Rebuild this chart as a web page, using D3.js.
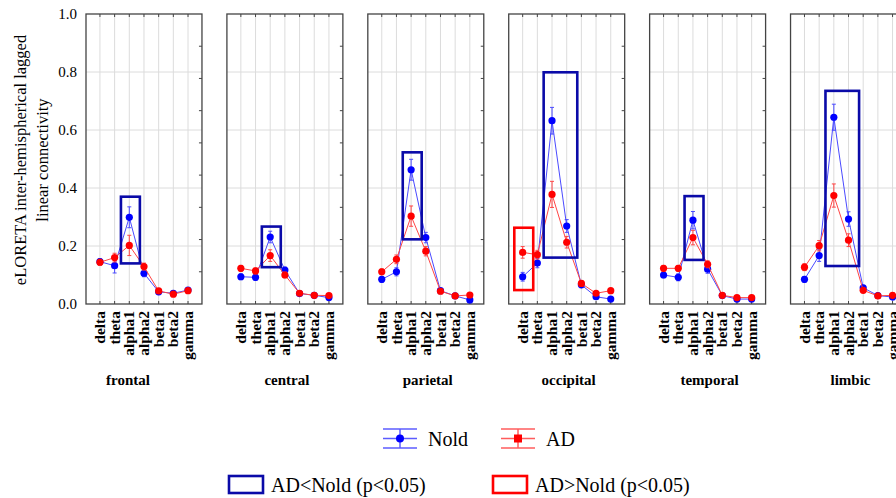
<!DOCTYPE html>
<html>
<head>
<meta charset="utf-8">
<script src="https://cdn.jsdelivr.net/npm/d3@7"></script>
<style>
  body { margin: 0; background: #fff; }
  text { font-family: "Liberation Serif", "Times New Roman", serif; fill: #000; }
</style>
</head>
<body>
<div id="chart"></div>
<script>
// regions (panels) and frequency bands (x categories)
var regions = ["frontal", "central", "parietal", "occipital", "temporal", "limbic"];
var bands = ["delta", "theta", "alpha1", "alpha2", "beta1", "beta2", "gamma"];
var yTicks = [0, 0.2, 0.4, 0.6, 0.8, 1.0];

// group means, one row per region
var noldMean = [
  [0.146, 0.132, 0.299, 0.106, 0.042, 0.037, 0.048],
  [0.094, 0.092, 0.231, 0.117, 0.036, 0.030, 0.022],
  [0.085, 0.111, 0.463, 0.229, 0.046, 0.028, 0.014],
  [0.094, 0.141, 0.632, 0.269, 0.066, 0.025, 0.017],
  [0.100, 0.092, 0.289, 0.120, 0.029, 0.017, 0.017],
  [0.085, 0.167, 0.644, 0.293, 0.056, 0.029, 0.024]
];
var adMean = [
  [0.144, 0.160, 0.202, 0.129, 0.045, 0.034, 0.046],
  [0.123, 0.114, 0.167, 0.100, 0.037, 0.030, 0.029],
  [0.111, 0.154, 0.303, 0.182, 0.044, 0.028, 0.031],
  [0.178, 0.170, 0.378, 0.213, 0.071, 0.037, 0.046],
  [0.123, 0.123, 0.229, 0.137, 0.030, 0.022, 0.022],
  [0.127, 0.201, 0.374, 0.220, 0.047, 0.028, 0.030]
];
// standard errors
var noldSE = [
  [0.010, 0.025, 0.036, 0.012, 0.006, 0.005, 0.006],
  [0.010, 0.010, 0.020, 0.010, 0.005, 0.004, 0.004],
  [0.010, 0.014, 0.036, 0.018, 0.006, 0.004, 0.003],
  [0.015, 0.016, 0.046, 0.022, 0.010, 0.004, 0.003],
  [0.010, 0.012, 0.030, 0.014, 0.005, 0.003, 0.003],
  [0.010, 0.020, 0.045, 0.025, 0.008, 0.004, 0.004]
];
var adSE = [
  [0.010, 0.015, 0.035, 0.012, 0.006, 0.005, 0.006],
  [0.010, 0.010, 0.020, 0.010, 0.005, 0.004, 0.004],
  [0.010, 0.015, 0.035, 0.016, 0.006, 0.004, 0.004],
  [0.020, 0.015, 0.045, 0.020, 0.010, 0.005, 0.005],
  [0.010, 0.010, 0.025, 0.012, 0.005, 0.004, 0.004],
  [0.012, 0.018, 0.040, 0.022, 0.006, 0.004, 0.004]
];

// significance boxes
var boxRegion = ["frontal", "central", "parietal", "occipital", "temporal", "limbic", "occipital"];
var boxFrom   = ["alpha1", "alpha1", "alpha1", "alpha1", "alpha1", "alpha1", "delta"];
var boxTo     = ["alpha1", "alpha1", "alpha1", "alpha2", "alpha1", "alpha2", "delta"];
var boxLow    = [0.140, 0.127, 0.223, 0.160, 0.152, 0.131, 0.048];
var boxHigh   = [0.370, 0.267, 0.523, 0.799, 0.372, 0.735, 0.263];
var boxType   = ["lower", "lower", "lower", "lower", "lower", "lower", "higher"];

var W = 896, H = 498;
var plotTop = 14, plotBottom = 304;

var svg = d3.select("#chart").append("svg")
    .attr("width", W)
    .attr("height", H);

// panel positions
var px = d3.scaleBand()
    .domain(regions)
    .range([86, 906.5])
    .paddingInner(0.177)
    .paddingOuter(0);

var pw = px.bandwidth();

var x = d3.scalePoint()
    .domain(bands)
    .range([0, pw])
    .padding(0.95);
var step = x.step();

var y = d3.scaleLinear()
    .domain([0, 1])
    .range([plotBottom, plotTop]);

var blueLine = "#4a4aff", blueDot = "#0000ff";
var redLine = "#ff4545", redDot = "#ff0000";
var boxBlue = "#0a0aa8", boxRed = "#ff0000";

var series = [
  {mean: noldMean, se: noldSE, line: blueLine, dot: blueDot},
  {mean: adMean, se: adSE, line: redLine, dot: redDot}
];

regions.forEach(function(reg, ri) {
  var g = svg.append("g")
      .attr("transform", "translate(" + px(reg) + ",0)");

  // grid
  g.selectAll(".vgrid").data(bands).enter().append("line")
      .attr("x1", function(d) { return x(d); })
      .attr("x2", function(d) { return x(d); })
      .attr("y1", plotTop).attr("y2", plotBottom)
      .attr("stroke", "#dcdcdc").attr("stroke-width", 1);
  g.selectAll(".hgrid").data(yTicks.slice(1, -1)).enter().append("line")
      .attr("x1", 0).attr("x2", pw)
      .attr("y1", function(d) { return y(d); })
      .attr("y2", function(d) { return y(d); })
      .attr("stroke", "#dcdcdc").attr("stroke-width", 1);

  // inward tick marks: top/bottom at bands, right side in ninths
  g.selectAll(".tt").data(bands).enter().append("line")
      .attr("x1", function(d) { return x(d); })
      .attr("x2", function(d) { return x(d); })
      .attr("y1", plotTop).attr("y2", plotTop + 3)
      .attr("stroke", "#444");
  g.selectAll(".bt").data(bands).enter().append("line")
      .attr("x1", function(d) { return x(d); })
      .attr("x2", function(d) { return x(d); })
      .attr("y1", plotBottom).attr("y2", plotBottom - 3)
      .attr("stroke", "#444");
  g.selectAll(".rt").data(d3.range(1, 9)).enter().append("line")
      .attr("x1", pw).attr("x2", pw - 3)
      .attr("y1", function(d) { return y(d / 9); })
      .attr("y2", function(d) { return y(d / 9); })
      .attr("stroke", "#444");

  // frame
  g.append("rect")
      .attr("x", 0).attr("y", plotTop)
      .attr("width", pw).attr("height", plotBottom - plotTop)
      .attr("fill", "none")
      .attr("stroke", "#444")
      .attr("stroke-width", 1.3);

  // series: lines, error bars, markers
  series.forEach(function(s) {
    var pts = bands.map(function(b, i) {
      return {b: b, v: s.mean[ri][i], e: s.se[ri][i]};
    });
    g.append("path")
        .datum(pts)
        .attr("fill", "none")
        .attr("stroke", s.line)
        .attr("stroke-width", 1)
        .attr("d", d3.line()
          .x(function(d) { return x(d.b); })
          .y(function(d) { return y(d.v); }));
    g.selectAll(null).data(pts).enter().append("line")
        .attr("x1", function(d) { return x(d.b); })
        .attr("x2", function(d) { return x(d.b); })
        .attr("y1", function(d) { return y(d.v - d.e); })
        .attr("y2", function(d) { return y(d.v + d.e); })
        .attr("stroke", s.line).attr("stroke-width", 1);
    [-1, 1].forEach(function(sg) {
      g.selectAll(null).data(pts).enter().append("line")
          .attr("x1", function(d) { return x(d.b) - 2; })
          .attr("x2", function(d) { return x(d.b) + 2; })
          .attr("y1", function(d) { return y(d.v + sg * d.e); })
          .attr("y2", function(d) { return y(d.v + sg * d.e); })
          .attr("stroke", s.line).attr("stroke-width", 1);
    });
    g.selectAll(null).data(pts).enter().append("circle")
        .attr("cx", function(d) { return x(d.b); })
        .attr("cy", function(d) { return y(d.v); })
        .attr("r", 3.6)
        .attr("fill", s.dot);
  });

  // x tick labels
  g.selectAll(".xl").data(bands).enter().append("text")
      .attr("transform", function(d) { return "translate(" + x(d) + ",311) rotate(-90)"; })
      .attr("text-anchor", "end")
      .attr("dy", "0.33em")
      .attr("font-size", "15.5px")
      .attr("font-weight", "bold")
      .text(function(d) { return d; });

  // region label
  g.append("text")
      .attr("x", pw / 2 + (ri === 0 ? -16 : 2))
      .attr("y", 385)
      .attr("text-anchor", "middle")
      .attr("font-size", "15px")
      .attr("font-weight", "bold")
      .text(reg);
});

// significance boxes
boxRegion.forEach(function(reg, i) {
  var x0 = px(reg) + x(boxFrom[i]) - 0.57 * step;
  var x1 = px(reg) + x(boxTo[i]) + 0.72 * step;
  svg.append("rect")
      .attr("x", x0)
      .attr("y", y(boxHigh[i]))
      .attr("width", x1 - x0)
      .attr("height", y(boxLow[i]) - y(boxHigh[i]))
      .attr("fill", "none")
      .attr("stroke", boxType[i] === "lower" ? boxBlue : boxRed)
      .attr("stroke-width", 2.6);
});

// y axis labels (first panel only)
svg.selectAll(".yl").data(yTicks).enter().append("text")
    .attr("x", 77)
    .attr("y", function(d) { return y(d); })
    .attr("dy", "0.35em")
    .attr("text-anchor", "end")
    .attr("font-size", "15px")
    .text(function(d) { return d.toFixed(1); });

// y axis title
var yt = svg.append("text")
    .attr("transform", "translate(26,160) rotate(-90)")
    .attr("text-anchor", "middle")
    .attr("font-size", "16.5px");
yt.append("tspan").attr("x", 0).attr("dy", 0).text("eLORETA inter-hemispherical lagged");
yt.append("tspan").attr("x", 0).attr("dy", 22).text("linear connectivity");

// legend: series
function seriesKey(cx, color, dotColor, square, label) {
  var k = svg.append("g");
  [429, 438.5, 448].forEach(function(yy) {
    k.append("line")
        .attr("x1", cx - 17).attr("x2", cx + 17)
        .attr("y1", yy).attr("y2", yy)
        .attr("stroke", color).attr("stroke-width", 1.5);
  });
  k.append("line")
      .attr("x1", cx).attr("x2", cx)
      .attr("y1", 429).attr("y2", 448)
      .attr("stroke", color).attr("stroke-width", 1.5);
  if (square) {
    k.append("rect").attr("x", cx - 4).attr("y", 434.5)
        .attr("width", 8).attr("height", 8).attr("fill", dotColor);
  } else {
    k.append("circle").attr("cx", cx).attr("cy", 438.5)
        .attr("r", 4).attr("fill", dotColor);
  }
  k.append("text")
      .attr("x", cx + 28).attr("y", 445.5)
      .attr("font-size", "20px")
      .text(label);
}
seriesKey(400, "#5c5cff", blueDot, false, "Nold");
seriesKey(518, "#ff5c5c", redDot, true, "AD");

// legend: boxes
function boxKey(x0, color, label) {
  svg.append("rect")
      .attr("x", x0).attr("y", 476)
      .attr("width", 34).attr("height", 17)
      .attr("fill", "none")
      .attr("stroke", color).attr("stroke-width", 2.6);
  svg.append("text")
      .attr("x", x0 + 42).attr("y", 491.5)
      .attr("font-size", "20px")
      .text(label);
}
boxKey(229, boxBlue, "AD<Nold (p<0.05)");
boxKey(493, boxRed, "AD>Nold (p<0.05)");
</script>
</body>
</html>
